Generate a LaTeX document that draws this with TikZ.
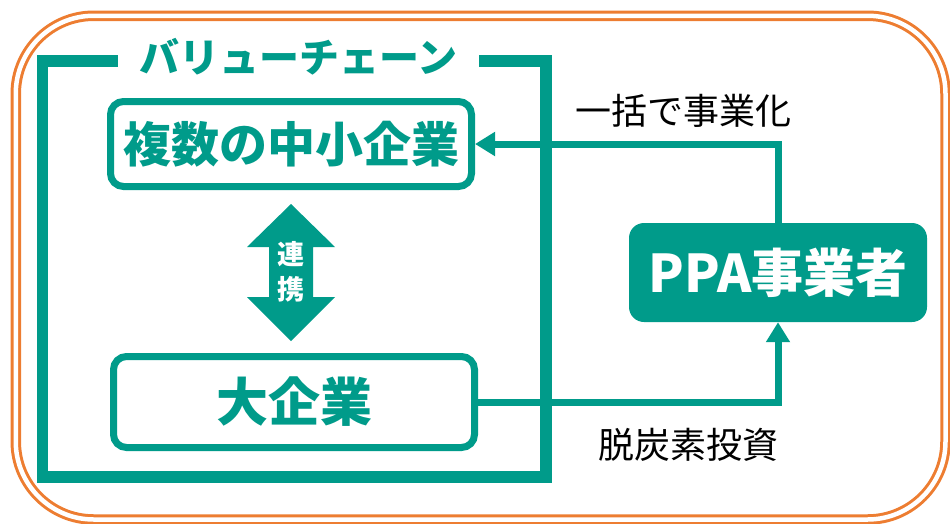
\documentclass[tikz,border=0pt]{standalone}
\usepackage{fontspec}
\setmainfont{Noto Sans CJK JP}
\usetikzlibrary{arrows.meta}
\definecolor{chain}{HTML}{009B8A}
\definecolor{rim}{HTML}{ED7D31}
\newcommand{\fs}[1]{\fontsize{#1}{#1}\selectfont}

\begin{document}
\begin{tikzpicture}[x=1pt,y=-1pt,
	box/.style={draw=chain,line width=7pt,rounded corners=13pt,fill=white,text=chain,font=\bfseries\fs{48}},
	flow/.style={draw=chain,line width=7pt,-{Triangle[length=20pt,width=23pt]}},
	note/.style={text=black,font=\fs{36}}]
\useasboundingbox (0,0) rectangle (950,523);
\draw[rim,line width=3pt,double=white,double distance=4.5pt,rounded corners=78pt] (15.75,15.75) rectangle (945.5,519.5);
\draw[chain,line width=11.5pt,line join=miter] (42.5,61) rectangle (546,477);
\node[fill=white,minimum width=361pt,inner ysep=2pt,text=chain,font=\bfseries\fs{40}] (title) at (298,57) {バリューチェーン};
\node[box,minimum width=361pt,minimum height=85pt] (sme) at (291,144) {複数の中小企業};
\node[box,minimum width=361pt,minimum height=91pt,font=\bfseries\fs{52}] (big) at (294,402) {大企業};
\node[fill=chain,rounded corners=15pt,minimum width=298pt,minimum height=99pt,text=white,font=\bfseries\fs{52}] (ppa) at (778,272.5) {PPA事業者};
\fill[chain] (291,204) -- (335,247) -- (313,247) -- (313,297) -- (335,297) -- (291,341)
	-- (247,297) -- (269,297) -- (269,247) -- (247,247) -- cycle;
\node[text=white,align=center,font=\bfseries\fontsize{27}{35}\selectfont] (link) at (291,272) {連\\携};
\draw[flow] (ppa.north) |- (sme.east);
\draw[flow] (big.east) -| (ppa.south);
\node[note] (bundle) at (683,111) {一括で事業化};
\node[note] (invest) at (688,445) {脱炭素投資};
\end{tikzpicture}
\end{document}
